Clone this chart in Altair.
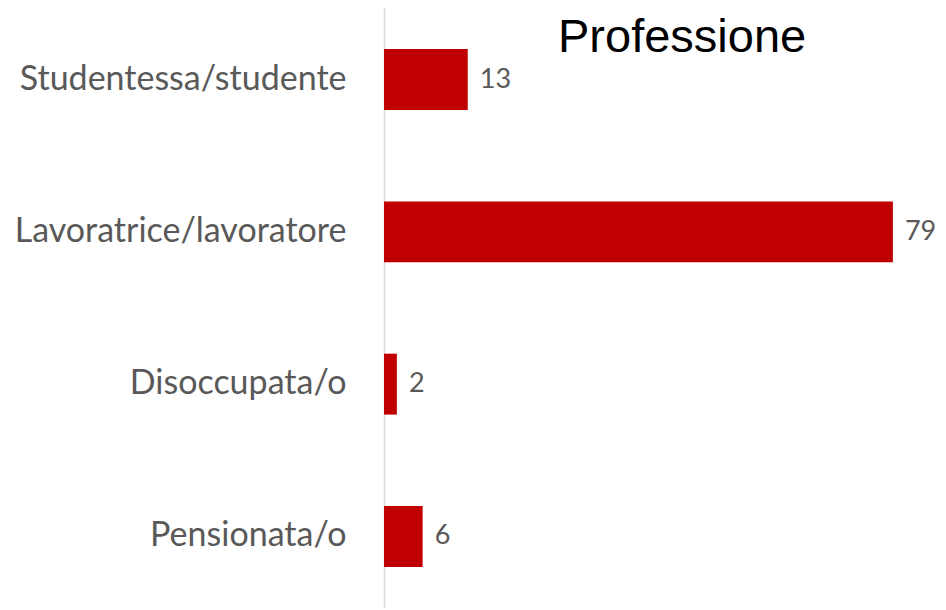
import altair as alt
import pandas as pd

categories = ["Studentessa/studente", "Lavoratrice/lavoratore", "Disoccupata/o", "Pensionata/o"]
values = [13, 79, 2, 6]
title_text = "Professione"

df = pd.DataFrame({"cat": categories, "val": values})

LABEL_FONT = "Lato"
x_scale = alt.Scale(domain=[0, 86], nice=False, zero=True)
y_enc = alt.Y(
    "cat:N",
    sort=categories,
    scale=alt.Scale(paddingInner=0.6, paddingOuter=0.27),
    axis=alt.Axis(
        title=None,
        ticks=False,
        grid=False,
        domain=True,
        domainColor="#D9D9D9",
        domainWidth=1.5,
        labelPadding=38,
        labelFont=LABEL_FONT,
        labelFontSize=34,
        labelColor="#595959",
        labelLimit=400,
    ),
)

bars = alt.Chart(df).mark_bar(color="#C00000").encode(
    x=alt.X("val:Q", scale=x_scale, axis=None),
    y=y_enc,
)

labels = alt.Chart(df).mark_text(
    align="left", baseline="middle", dx=12, font=LABEL_FONT, fontSize=27, color="#595959"
).encode(
    x=alt.X("val:Q", scale=x_scale, axis=None),
    y=alt.Y("cat:N", sort=categories),
    text="val:Q",
)

title = alt.Chart(pd.DataFrame({"t": [title_text]})).mark_text(
    align="left", baseline="alphabetic", font="Liberation Sans", fontSize=47, color="#000000"
).encode(
    x=alt.value(174),
    y=alt.value(44),
    text="t:N",
)

chart = alt.layer(bars, labels, title).properties(
    width=554,
    height=600,
    autosize=alt.AutoSizeParams(type="none"),
    padding={"left": 376, "top": 0, "right": 0, "bottom": 0},
    background="#FFFFFF",
).configure_view(stroke=None)

chart.save("out.html", embed_options={"renderer": "svg", "actions": False})
